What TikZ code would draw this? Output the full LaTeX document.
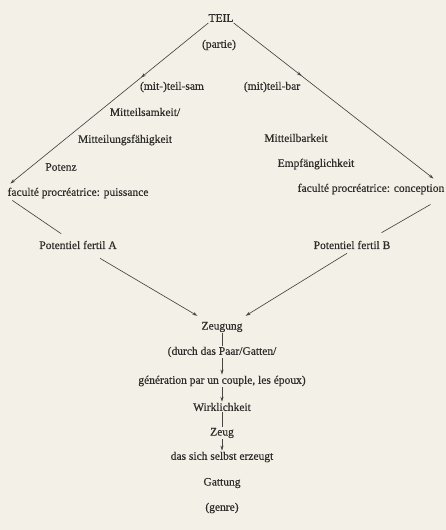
\documentclass[tikz,border=0pt]{standalone}
\usepackage{fontspec}
\setmainfont{Liberation Serif}[FakeBold=0.35]
\usetikzlibrary{arrows.meta,decorations.markings}
\definecolor{paper}{RGB}{243,240,231}
\definecolor{ink}{RGB}{46,44,41}
\definecolor{wirec}{RGB}{72,70,67}
\begin{document}
\begin{tikzpicture}[x=1pt,y=-1pt,
  lbl/.style={text=ink, font=\fontsize{11.5}{13}\selectfont, inner sep=1pt},
  conn/.style={draw=wirec, line width=0.65pt},
  tip/.style={conn, -{Stealth[length=5pt,width=3.2pt]}},
  midtip/.style={conn, postaction={decorate},
    decoration={markings, mark=at position 0.34 with {\arrow{Stealth[length=5pt,width=3.2pt]}}}}]
\fill[paper] (0,0) rectangle (446,530);
\useasboundingbox (0,0) rectangle (446,530);

% top
\node[lbl] (teil)   at (221,18)  {TEIL};
\node[lbl] (partie) at (219,45)  {(partie)};
\node[lbl] (sam)    at (172,87)  {(mit-)teil-sam};
\node[lbl] (bar)    at (272,87)  {(mit)teil-bar};
% left branch
\node[lbl] (msk)    at (145,112) {Mitteilsamkeit/};
\node[lbl] (mfk)    at (125,140) {Mitteilungsfähigkeit};
\node[lbl] (potenz) at (61,167)  {Potenz};
\node[lbl] (fpA)    at (78,193)  {faculté procréatrice: puissance};
\node[lbl] (potA)   at (78,245)  {Potentiel fertil A};
% right branch
\node[lbl] (mbk)    at (296,138) {Mitteilbarkeit};
\node[lbl] (efk)    at (316,164) {Empfänglichkeit};
\node[lbl] (fpB)    at (371,189) {faculté procréatrice: conception};
\node[lbl] (potB)   at (352,245) {Potentiel fertil B};
% bottom column
\node[lbl] (zeugung) at (222,327) {Zeugung};
\node[lbl] (durch)   at (222,352) {(durch das Paar/Gatten/};
\node[lbl] (gen)     at (222,381) {génération par un couple, les époux)};
\node[lbl] (wirk)    at (222,407) {Wirklichkeit};
\node[lbl] (zeug)    at (222,433) {Zeug};
\node[lbl] (selbst)  at (222,457) {das sich selbst erzeugt};
\node[lbl] (gattung) at (222,483) {Gattung};
\node[lbl] (genre)   at (222,508) {(genre)};

% diamond
\draw[midtip, -{Stealth[length=5pt,width=3.2pt]}] ([xshift=1pt]teil.south west) -- ([xshift=4pt,yshift=3pt]fpA.north west);
\draw[midtip, -{Stealth[length=5pt,width=3.2pt]}] ([xshift=-1pt]teil.south east) -- ([xshift=-12pt,yshift=4pt]fpB.north east);
\draw[conn] ([xshift=6pt,yshift=-1pt]fpA.south west) -- ([xshift=23pt,yshift=6pt]potA.north west);
\draw[conn] ([xshift=-15pt,yshift=-9pt]fpB.south east) -- ([xshift=-10pt,yshift=7pt]potB.north east);
\draw[tip] ([xshift=22pt,yshift=-8pt]potA.south) -- ([xshift=-3pt,yshift=5pt]zeugung.north west);
\draw[tip] ([xshift=-5pt,yshift=-3pt]potB.south) -- ([xshift=2pt,yshift=5pt]zeugung.north east);

% column
\draw[conn] (zeugung.south) -- (durch.north);
\draw[tip]  (durch.south) -- (gen.north);
\draw[tip]  (gen.south) -- (wirk.north);
\draw[conn] (wirk.south) -- (zeug.north);
\draw[tip]  (zeug.south) -- (selbst.north);
\end{tikzpicture}
\end{document}
